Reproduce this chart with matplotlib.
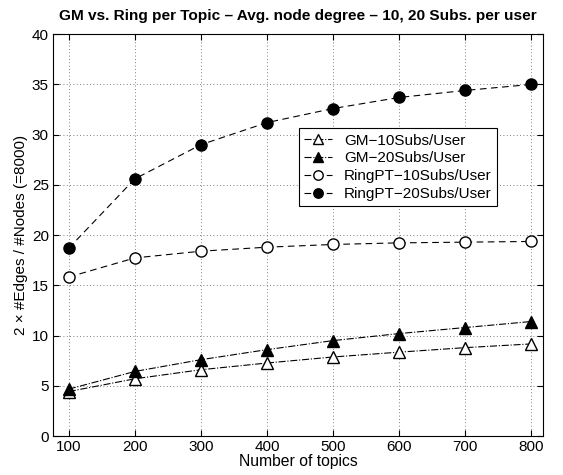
import matplotlib
matplotlib.use("Agg")
import matplotlib.pyplot as plt

plt.rcParams['font.family'] = ['Liberation Sans', 'DejaVu Sans']

topics = [100, 200, 300, 400, 500, 600, 700, 800]
gm_10 = [4.43, 5.7, 6.6, 7.27, 7.87, 8.35, 8.8, 9.17]
gm_20 = [4.67, 6.43, 7.6, 8.6, 9.5, 10.2, 10.8, 11.4]
ring_10 = [15.83, 17.73, 18.4, 18.8, 19.07, 19.23, 19.3, 19.37]
ring_20 = [18.7, 25.6, 29.0, 31.2, 32.6, 33.7, 34.4, 35.0]
labels = ["GM\u221210Subs/User", "GM\u221220Subs/User",
          "RingPT\u221210Subs/User", "RingPT\u221220Subs/User"]

fig = plt.figure(figsize=(5.63, 4.75), dpi=100)
ax = fig.add_axes([0.094, 0.082, 0.8705, 0.846])

ms = 8
lw = 0.8
ax.plot(topics, gm_10, linestyle='-.', color='black', lw=lw, marker='^',
        markersize=ms, markerfacecolor='white', markeredgecolor='black', label=labels[0])
ax.plot(topics, gm_20, linestyle='-.', color='black', lw=lw, marker='^',
        markersize=ms, markerfacecolor='black', markeredgecolor='black', label=labels[1])
ax.plot(topics, ring_10, linestyle=(0, (6, 4)), color='black', lw=lw, marker='o',
        markersize=ms, markerfacecolor='white', markeredgecolor='black', label=labels[2])
ax.plot(topics, ring_20, linestyle=(0, (6, 4)), color='black', lw=lw, marker='o',
        markersize=ms, markerfacecolor='black', markeredgecolor='black', label=labels[3])

ax.set_xlim(76, 818)
ax.set_ylim(0, 40)
ax.set_xticks(topics)
ax.set_yticks(range(0, 41, 5))
ax.grid(True, linestyle=(0, (1, 3)), color='#555555', linewidth=0.6)
ax.tick_params(direction='in', top=True, right=True, labelsize=11, length=4, pad=3)
for s in ax.spines.values():
    s.set_linewidth(0.8)

ax.set_xlabel("Number of topics", fontsize=11.3, labelpad=0)
ax.set_ylabel("2 \u00d7 #Edges / #Nodes (=8000)", fontsize=11, labelpad=3)
ax.set_title("GM vs. Ring per Topic \u2013 Avg. node degree \u2013 10, 20 Subs. per user",
             fontsize=11.1, fontweight='bold', pad=10)

leg = ax.legend(loc='upper left', bbox_to_anchor=(0.502, 0.766), fontsize=11,
                frameon=True, fancybox=False, edgecolor='black', framealpha=1,
                borderpad=0.35, labelspacing=0.25, handlelength=1.8, handletextpad=0.8,
                borderaxespad=0, markerscale=0.85)
leg.get_frame().set_linewidth(0.8)

fig.savefig("out.png", dpi=100)
